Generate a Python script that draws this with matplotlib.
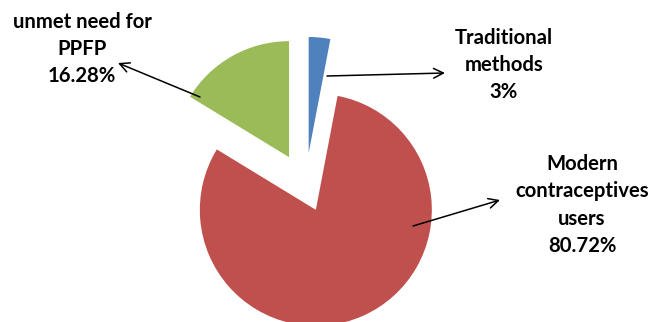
import matplotlib
matplotlib.use("Agg")
import matplotlib.pyplot as plt

categories = ["Traditional\nmethods", "Modern\ncontraceptives\nusers", "unmet need for\nPPFP"]
values = [3.0, 80.72, 16.28]
value_labels = ["3%", "80.72%", "16.28%"]
colors = ["#4F81BD", "#C0504D", "#9BBB59"]

W, H = 650, 322
fig = plt.figure(figsize=(W / 100, H / 100), dpi=100)
ax = fig.add_axes([0, 0, 1, 1])

R = 116
center = (305.5, H - 186.5)
explode_frac = [0.29, 0.22, 0.29]
ax.pie(values, colors=colors, startangle=90, counterclock=False,
       radius=R, center=center, explode=[e * R for e in explode_frac],
       wedgeprops=dict(linewidth=0))
ax.set_xlim(0, W)
ax.set_ylim(0, H)
ax.set_aspect("equal")
ax.axis("off")

font = dict(family=["Lato", "DejaVu Sans"], fontweight="bold", fontsize=14.6,
            ha="center", va="center", linespacing=1.45)
arrow = dict(arrowstyle="->,head_length=0.7,head_width=0.35", lw=1.1, color="black",
             shrinkA=0, shrinkB=0)

# text anchor points (pixels from top) and arrow endpoints
label_pos = [(504, 65), (582, 205), (82, 49)]
arrow_from = [(327, 76), (413, 226), (200, 97)]
arrow_to = [(445, 73), (500, 200), (118, 63)]

for cat, vl, (tx, ty), (ax0, ay0), (ax1, ay1) in zip(categories, value_labels, label_pos, arrow_from, arrow_to):
    ax.text(tx, H - ty, f"{cat}\n{vl}", **font)
    ax.annotate("", xy=(ax1, H - ay1), xytext=(ax0, H - ay0), arrowprops=arrow)

fig.savefig("out.png", dpi=100)
